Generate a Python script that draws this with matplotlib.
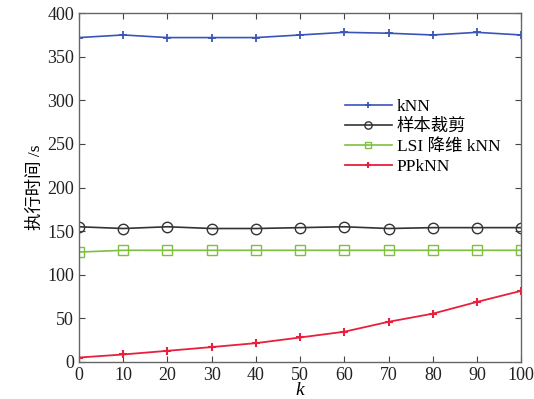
import matplotlib
matplotlib.use("Agg")
import matplotlib.pyplot as plt

plt.rcParams['font.family'] = ['Liberation Serif', 'Noto Sans CJK SC']
plt.rcParams['axes.unicode_minus'] = False

k = [0, 10, 20, 30, 40, 50, 60, 70, 80, 90, 100]
knn = [372, 375, 372, 372, 372, 375, 378, 377, 375, 378, 375]
pruning = [155, 153, 155, 153, 153, 154, 155, 153, 154, 154, 154]
lsi_knn = [126, 128, 128, 128, 128, 128, 128, 128, 128, 128, 128]
ppknn = [5, 8.5, 12.7, 17, 21.5, 28, 34.6, 46, 55.3, 68.8, 81.5]

labels = ['kNN', '样本裁剪', 'LSI 降维 kNN', 'PPkNN']

fig = plt.figure(figsize=(5.34, 3.99), dpi=100)
ax = fig.add_axes([0.148, 0.093, 0.828, 0.874])

ax.plot(k, knn, color='#3a55b8', marker='+', markersize=6, markeredgewidth=1.3, lw=1.2, label=labels[0])
ax.plot(k, pruning, color='#333333', marker='o', markersize=7.5, markerfacecolor='none', markeredgewidth=1.0, lw=1.2, label=labels[1])
ax.plot(k, lsi_knn, color='#7fbf3f', marker='s', markersize=6.5, markerfacecolor='none', markeredgewidth=1.0, lw=1.2, label=labels[2])
ax.plot(k, ppknn, color='#e8203c', marker='+', markersize=6, markeredgewidth=1.5, lw=1.3, label=labels[3])

ax.set_xlim(0, 100)
ax.set_ylim(0, 400)
ax.set_xticks(k)
ax.set_yticks(range(0, 401, 50))
ax.tick_params(direction='in', top=True, right=True, labelsize=13, length=4, colors='#444444', labelcolor='#222222')
for s in ax.spines.values():
    s.set_color('#666666')
    s.set_linewidth(1.0)

ax.set_xlabel('k', fontsize=14, style='italic', labelpad=-1)
ax.set_ylabel('执行时间 /s', fontsize=12.5, labelpad=2)

leg = ax.legend(loc='upper left', bbox_to_anchor=(0.585, 0.775), frameon=False, fontsize=12.5,
                handlelength=2.7, handletextpad=0.3, labelspacing=0.22, borderaxespad=0,
                markerscale=0.7)

fig.savefig('out.png', dpi=100)
